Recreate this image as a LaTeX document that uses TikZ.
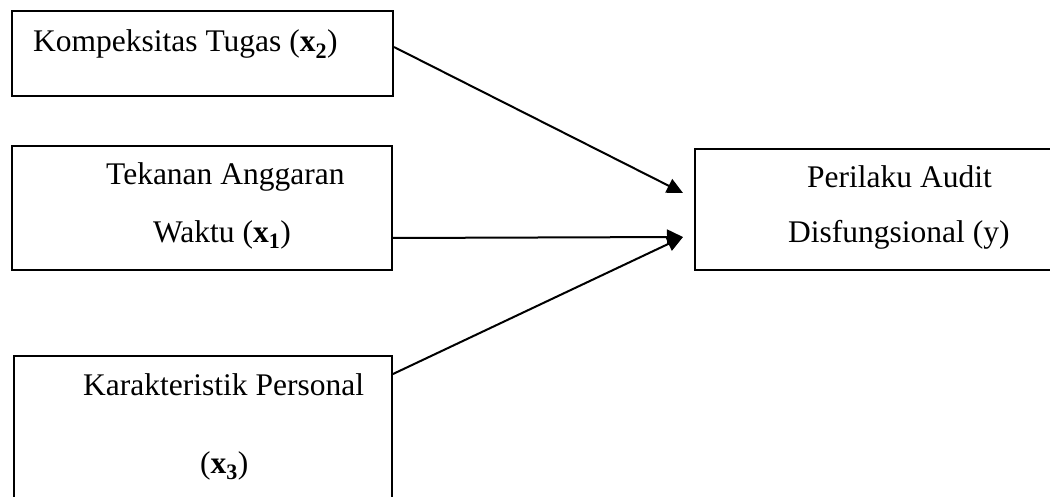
\documentclass[tikz,border=0pt]{standalone}
\usepackage{fontspec}
\setmainfont{Liberation Serif}
\usetikzlibrary{arrows.meta}
\tikzset{
  box/.style={draw=black, line width=2pt, rectangle, inner sep=0pt, anchor=north west},
  lbl/.style={inner sep=0pt, anchor=base west, font=\fontsize{31.5}{36}\selectfont},
  arr/.style={line width=2pt, -{Triangle[length=16pt,width=15pt]}}
}
\newcommand{\xv}[1]{\textbf{x}\textsubscript{\textbf{#1}}}
\begin{document}
\begin{tikzpicture}[x=1pt,y=-1pt]
\clip (0,0) rectangle (1050,497);
\fill[white] (0,0) rectangle (1050,497);
% boxes
\node[box, minimum width=381pt, minimum height=85pt] (b1) at (11,10) {};
\node[box, minimum width=380pt, minimum height=124pt] (b2) at (11,145) {};
\node[box, minimum width=378pt, minimum height=170pt] (b3) at (13,355) {};
\node[box, minimum width=380pt, minimum height=121pt] (b4) at (694,148) {};
% texts
\node[lbl] (t1) at (33,52) {Kompeksitas Tugas (\xv{2})};
\node[lbl] (t2a) at (106,185) {Tekanan Anggaran};
\node[lbl] (t2b) at (153,243) {Waktu (\xv{1})};
\node[lbl] (t3a) at (83,395) {Karakteristik Personal};
\node[lbl] (t3b) at (200,473) {(\xv{3})};
\node[lbl] (t4a) at (807,188) {Perilaku Audit};
\node[lbl] (t4b) at (788,243) {Disfungsional (y)};
% arrow end points
\coordinate (e1) at (683,193);
\coordinate (e2) at (683,237);
\coordinate (s1) at ([yshift=6.5pt]b1.east);
\coordinate (s2) at ([yshift=-30pt]b2.east);
\coordinate (s3) at ([yshift=-19pt]b3.north east);
\draw[arr] (s1) -- (e1);
\draw[arr] (s2) -- (e2);
\draw[arr] (s3) -- (e2);
\end{tikzpicture}
\end{document}
